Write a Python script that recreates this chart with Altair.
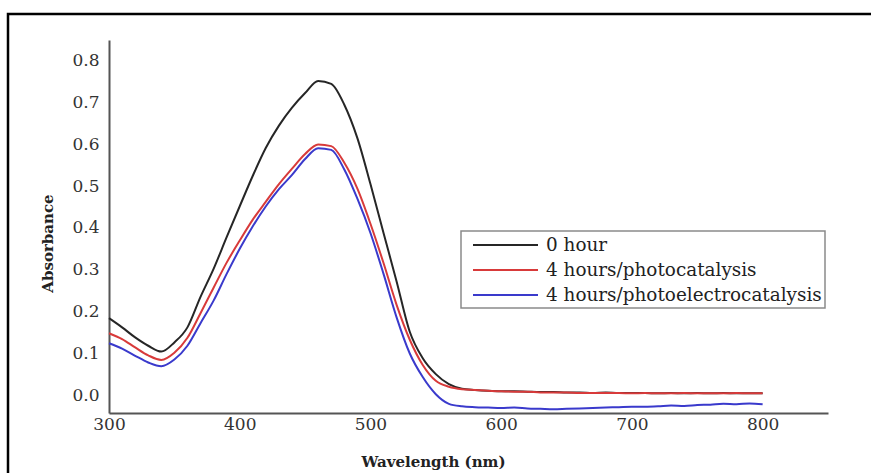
import altair as alt
import pandas as pd

wavelength = list(range(300, 801, 10))

hour0 = [0.184, 0.162, 0.138, 0.118, 0.104, 0.126, 0.162, 0.235, 0.302, 0.378,
         0.452, 0.525, 0.592, 0.645, 0.688, 0.723, 0.752, 0.745, 0.695, 0.615,
         0.505, 0.388, 0.272, 0.152, 0.088, 0.050, 0.026, 0.015, 0.012, 0.010,
         0.009, 0.009, 0.008, 0.007, 0.007, 0.006, 0.006, 0.005, 0.006, 0.005,
         0.005, 0.005, 0.004, 0.005, 0.004, 0.005, 0.004, 0.005, 0.004, 0.004,
         0.004]

photocat = [0.148, 0.134, 0.114, 0.095, 0.084, 0.101, 0.137, 0.196, 0.257, 0.317,
            0.370, 0.420, 0.463, 0.505, 0.542, 0.577, 0.600, 0.596, 0.556, 0.494,
            0.410, 0.316, 0.216, 0.133, 0.072, 0.034, 0.020, 0.014, 0.012, 0.010,
            0.009, 0.008, 0.008, 0.006, 0.006, 0.006, 0.005, 0.005, 0.005, 0.005,
            0.004, 0.005, 0.004, 0.004, 0.005, 0.004, 0.004, 0.004, 0.005, 0.004,
            0.004]

photoelec = [0.124, 0.111, 0.094, 0.078, 0.069, 0.085, 0.118, 0.172, 0.226, 0.290,
             0.350, 0.404, 0.452, 0.493, 0.527, 0.565, 0.591, 0.587, 0.540, 0.470,
             0.388, 0.290, 0.186, 0.100, 0.043, 0.002, -0.021, -0.027, -0.029, -0.030,
             -0.031, -0.030, -0.032, -0.033, -0.034, -0.033, -0.032, -0.031, -0.030, -0.029,
             -0.028, -0.028, -0.027, -0.025, -0.026, -0.024, -0.023, -0.021, -0.022, -0.020,
             -0.022]

series_names = ["0 hour", "4 hours/photocatalysis", "4 hours/photoelectrocatalysis"]
series_colors = ["#262626", "#d83a3a", "#3a3acc"]
x_ticks = [300, 400, 500, 600, 700, 800]
y_ticks = [0.0, 0.1, 0.2, 0.3, 0.4, 0.5, 0.6, 0.7, 0.8]

rows = []
for name, vals in zip(series_names, [hour0, photocat, photoelec]):
    for w, v in zip(wavelength, vals):
        rows.append({"wavelength": w, "absorbance": v, "series": name})
df = pd.DataFrame(rows)

FONT = "DejaVu Serif"

lines = alt.Chart(df).mark_line(strokeWidth=2, interpolate="monotone").encode(
    x=alt.X("wavelength:Q",
            scale=alt.Scale(domain=[300, 850], nice=False, zero=False),
            axis=alt.Axis(values=x_ticks, title="Wavelength (nm)", titleX=324,
                          titlePadding=22, labelPadding=3, labelFlush=False)),
    y=alt.Y("absorbance:Q",
            scale=alt.Scale(domain=[-0.043, 0.85], nice=False, zero=False),
            axis=alt.Axis(values=y_ticks, format=".1f", title="Absorbance",
                          titleY=203, titlePadding=16, labelPadding=10, labelFlush=False)),
    color=alt.Color("series:N",
                    scale=alt.Scale(domain=series_names, range=series_colors),
                    sort=series_names,
                    legend=alt.Legend(title=None, orient="none", legendX=352, legendY=191)),
)

frame = alt.Chart(pd.DataFrame({"k": [0]})).mark_rect(
    fill="transparent", stroke="black", strokeWidth=2.5, clip=False
).encode(
    x=alt.value(-101), x2=alt.value(771), y=alt.value(-26), y2=alt.value(450)
)

chart = alt.layer(frame, lines).properties(
    width=719, height=373,
    padding={"left": 109, "top": 40, "right": 43, "bottom": 60},
    autosize=alt.AutoSizeParams(type="none"),
    background="white",
).configure_view(stroke=None).configure_axis(
    grid=False, ticks=False, domainColor="#555555", domainWidth=2,
    labelFont=FONT, labelFontSize=17, labelColor="#333333",
    titleFont=FONT, titleFontSize=15, titleFontWeight="bold", titleColor="#222222",
).configure_legend(
    strokeColor="#8a8a8a", strokeWidth=1.5, padding=3, fillColor="white",
    symbolType="M-1,0H5.5", symbolSize=400, symbolStrokeWidth=2,
    labelFont=FONT, labelFontSize=18.4, labelColor="#222222", labelLimit=500,
    rowPadding=4, symbolOffset=8, labelOffset=52,
)

chart.save("out.html", embed_options={"renderer": "svg", "actions": False})
